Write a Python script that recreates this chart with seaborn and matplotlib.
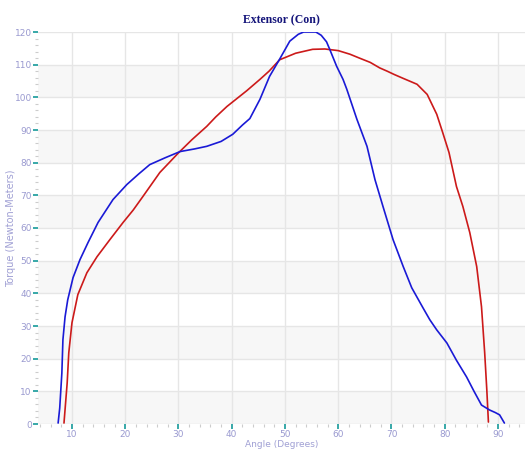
import numpy as np
import pandas as pd
import matplotlib
matplotlib.use("Agg")
import matplotlib.pyplot as plt
import seaborn as sns
from matplotlib.ticker import MultipleLocator

# ---- data ----
blue_angle = [7.4, 7.7, 8.1, 8.3, 8.7, 9.2, 10.2, 11.5, 13.0, 14.9, 17.7, 20.3, 22.5, 24.6,
              27.5, 30.3, 33.0, 35.3, 38.0, 40.2, 42.0, 43.4, 45.3, 47.1, 49.0, 50.9, 52.5,
              53.5, 55.8, 56.8, 57.8, 58.4, 59.7, 60.9, 61.6, 63.5, 65.4, 66.9, 68.4, 70.3,
              72.2, 73.8, 75.9, 77.2, 78.5, 80.4, 82.2, 84.1, 85.5, 86.9, 88.4, 89.5, 90.3, 91.2]
blue_torque = [0.3, 4.9, 15.6, 25.8, 32.8, 38.0, 44.8, 50.3, 55.5, 61.7, 68.7, 73.3, 76.5, 79.4,
               81.5, 83.4, 84.2, 85.0, 86.5, 88.7, 91.5, 93.5, 99.4, 106.4, 111.7, 117.2, 119.3,
               120.0, 120.0, 119.0, 117.0, 114.7, 109.5, 105.5, 102.5, 93.3, 85.0, 74.8, 66.6, 56.4,
               48.2, 41.7, 35.6, 31.9, 28.8, 24.8, 19.5, 14.4, 10.0, 5.8, 4.3, 3.5, 2.8, 0.3]

red_angle = [8.5, 9.1, 9.4, 10.0, 11.1, 12.8, 14.7, 17.1, 19.6, 21.5, 23.3, 26.5, 30.0, 32.5,
             35.3, 37.0, 39.1, 42.8, 45.3, 47.0, 49.0, 52.0, 55.2, 57.5, 60.0, 62.2, 64.0, 66.0,
             67.8, 69.2, 70.5, 72.2, 74.8, 76.7, 78.5, 79.6, 80.8, 82.2, 83.4, 84.7, 86.0, 86.9,
             87.5, 87.9, 88.2]
red_torque = [0.3, 12.6, 21.8, 31.0, 39.6, 46.3, 51.2, 56.4, 61.7, 65.5, 69.6, 77.0, 83.0, 87.0,
              91.1, 94.0, 97.2, 102.0, 105.5, 108.0, 111.5, 113.5, 114.7, 114.8, 114.3, 113.2, 112.0, 110.7,
              109.0, 108.0, 107.0, 105.8, 104.0, 100.9, 94.8, 89.3, 83.1, 72.7, 66.6, 58.6, 48.2, 35.9,
              21.8, 10.4, 0.6]

title = "Extensor (Con)"
xlabel = "Angle (Degrees)"
ylabel = "Torque (Newton-Meters)"

sns.set_style("white")
fig = plt.figure(figsize=(5.25, 4.5), dpi=100)
ax = fig.add_axes([38/525, 1-424/450, 1-38/525, (424-32)/450])

ax.set_xlim(3.62, 95.07)
ax.set_ylim(0, 120)

# alternating bands
for lo in range(0, 120, 20):
    ax.axhspan(lo, lo + 10, color="#f7f7f7", zorder=0, lw=0)

ax.set_axisbelow(True)
ax.xaxis.set_major_locator(MultipleLocator(10))
ax.yaxis.set_major_locator(MultipleLocator(10))
ax.xaxis.set_minor_locator(MultipleLocator(2))
ax.yaxis.set_minor_locator(MultipleLocator(2))
ax.grid(True, which="major", color="#e6e6e6", lw=1.0, zorder=0.5)

df_b = pd.DataFrame({"angle": blue_angle, "torque": blue_torque})
df_r = pd.DataFrame({"angle": red_angle, "torque": red_torque})
sns.lineplot(data=df_r, x="angle", y="torque", sort=False, estimator=None,
             color="#cc1a1a", lw=1.2, ax=ax, zorder=3)
sns.lineplot(data=df_b, x="angle", y="torque", sort=False, estimator=None,
             color="#1a1ad6", lw=1.2, ax=ax, zorder=4)

for s in ax.spines.values():
    s.set_visible(False)

ax.tick_params(axis="both", which="major", length=3.5, width=1.2, color="#159a9a",
               labelsize=6.5, labelcolor="#9a9ad0", pad=1)
ax.tick_params(axis="both", which="minor", length=2.5, width=0.8, color="#cccccc")
ax.tick_params(axis="x", which="both", bottom=True, direction="out")
ax.tick_params(axis="y", which="both", left=True, direction="out")

ax.set_xlabel(xlabel, fontsize=6.5, color="#a0a0d4")
ax.set_ylabel(ylabel, fontsize=7, color="#a0a0d4")
ax.xaxis.set_label_coords(0.5, -0.042)
ax.yaxis.set_label_coords(-0.045, 0.5)
ax.set_title(title, fontsize=8.5, color="#14147a", fontweight="bold",
             family="Liberation Serif", pad=6)

fig.savefig("out.png", dpi=100)
